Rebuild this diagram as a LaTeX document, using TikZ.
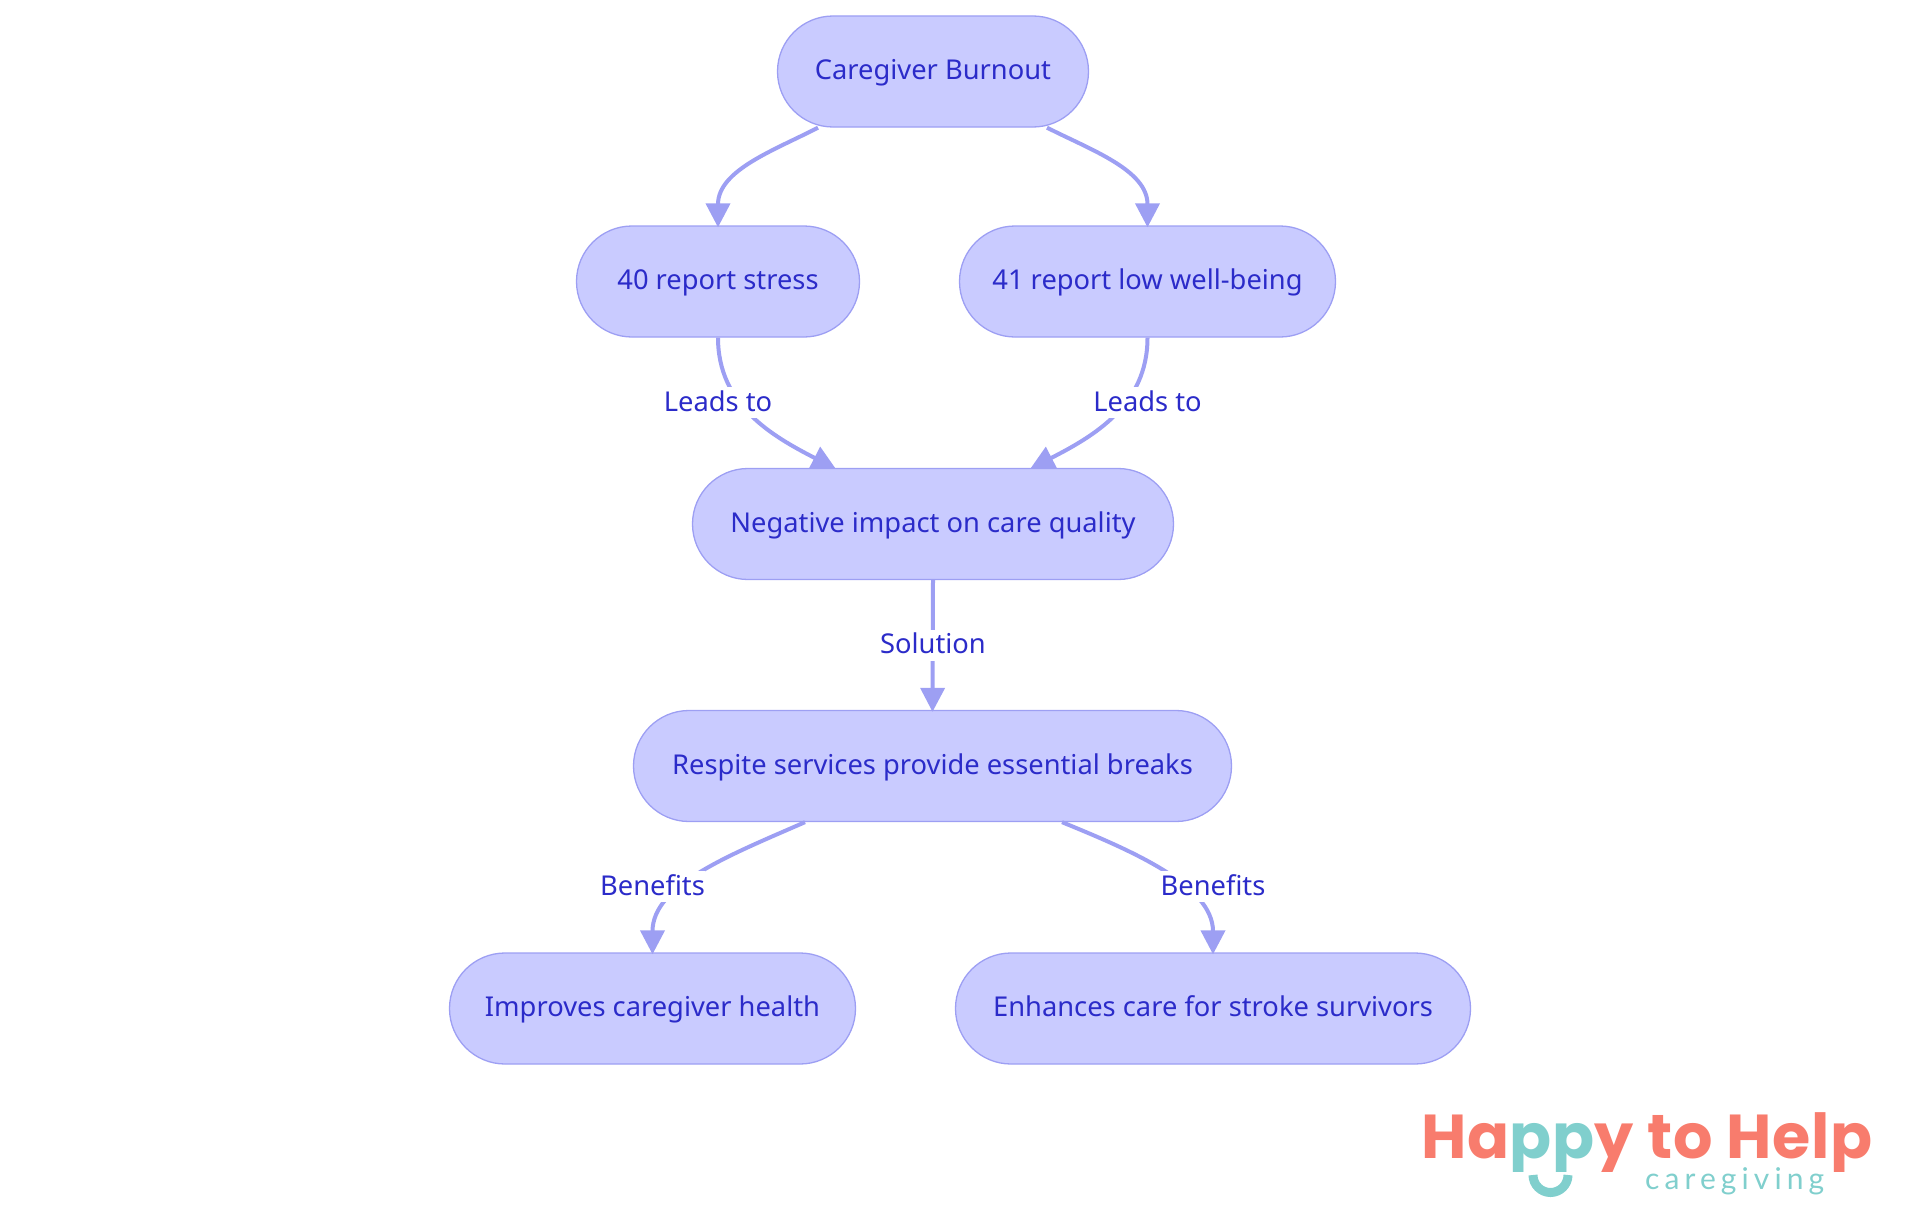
\documentclass[tikz,border=0pt]{standalone}
\usepackage{fontspec}
\setmainfont{Noto Sans}
\newfontfamily\logofont[LetterSpace=1.2]{Poppins}
\newfontfamily\logosmall[LetterSpace=17]{Lato}
\usetikzlibrary{arrows.meta}
\definecolor{nodefill}{HTML}{C9CBFF}
\definecolor{nodeline}{HTML}{9D9FF3}
\definecolor{inkblue}{HTML}{2B2BC9}
\definecolor{coral}{HTML}{F87C6D}
\definecolor{teal}{HTML}{80CFCD}
\tikzset{
  pill/.style={draw=nodeline,fill=nodefill,line width=1.3pt,rounded corners=55.5pt,minimum height=111pt,inner sep=0pt,text=inkblue,font=\fontsize{27.3}{30}\selectfont,text height=22pt,text depth=6pt},
  link/.style={draw=nodeline,line width=4pt,shorten >=-2pt,-{Triangle[length=24pt,width=24pt]}},
  elabel/.style={fill=white,inner sep=0pt,text=inkblue,font=\fontsize{27.3}{30}\selectfont,text height=24pt,text depth=7pt}
}
\begin{document}
\begin{tikzpicture}[x=1pt,y=-1pt]
\useasboundingbox (0,0) rectangle (1920,1215);
\node[pill,minimum width=311pt] (burnout) at (933,71.5) {Caregiver Burnout};
\node[pill,minimum width=283pt] (stress) at (718,281.5) {40 report stress};
\node[pill,minimum width=376pt] (wellbeing) at (1147.5,281.5) {41 report low well-being};
\node[pill,minimum width=481pt] (impact) at (933,524) {Negative impact on care quality};
\node[pill,minimum width=598pt] (respite) at (932.5,766) {Respite services provide essential breaks};
\node[pill,minimum width=406pt] (health) at (652.5,1008.5) {Improves caregiver health};
\node[pill,minimum width=515pt] (survivors) at (1213,1008.5) {Enhances care for stroke survivors};

\draw[link] ([xshift=-115pt]burnout.south) .. controls (775,150) and (718,170) .. (stress.north);
\draw[link] ([xshift=114pt]burnout.south) .. controls (1091,150) and (1147.5,170) .. (wellbeing.north);
\draw[link] (stress.south) .. controls (718,405) and (772,436) .. ([xshift=-99pt]impact.north);
\draw[link] (wellbeing.south) .. controls (1147.5,405) and (1094,436) .. ([xshift=99pt]impact.north);
\draw[link] (impact.south) -- (respite.north);
\draw[link] ([xshift=-127.5pt]respite.south) .. controls (730,855) and (652.5,885) .. (health.north);
\draw[link] ([xshift=129.5pt]respite.south) .. controls (1130,850) and (1213,885) .. (survivors.north);

\node[elabel] (l1) at (718,402.5) {Leads to};
\node[elabel] (l2) at (1147.5,402.5) {Leads to};
\node[elabel] (l3) at (933,645) {Solution};
\node[elabel] (l4) at (652.5,886.5) {Benefits};
\node[elabel] (l5) at (1213,886.5) {Benefits};

\begin{scope}
\clip (1400,1090) rectangle (1900,1171);
\node[anchor=base west,inner sep=0pt,text depth=0pt,font=\logofont\bfseries\fontsize{62}{70}\selectfont,text=coral] (logo) at (1421,1158) {Ha\textcolor{teal}{pp}y to Help};
\end{scope}
\node[anchor=base west,inner sep=0pt,text height=22pt,text depth=7pt,font=\logosmall\fontsize{30}{34}\selectfont,text=teal] (logosub) at (1645,1189) {caregiving};
\draw[teal,line width=9pt] (1533,1175) arc[start angle=180,end angle=360,radius=17.5pt];
\end{tikzpicture}
\end{document}
